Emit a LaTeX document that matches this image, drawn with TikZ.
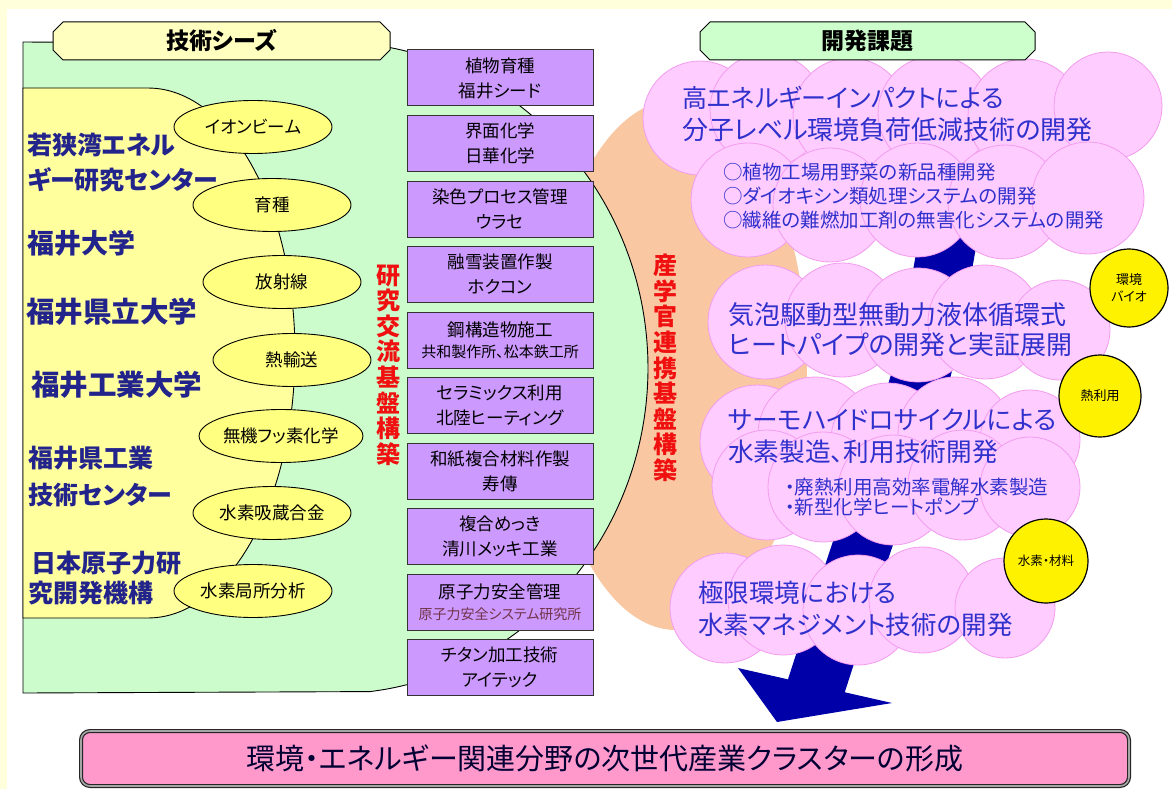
\documentclass[tikz,border=0pt]{standalone}
\usepackage{fontspec}
\newfontfamily\jp{Noto Sans CJK JP}[RawFeature=+palt]
\usetikzlibrary{shapes.geometric,shapes.misc}
\definecolor{bgy}{HTML}{FFFFDC}
\definecolor{pgreen}{HTML}{CCFCCC}
\definecolor{pyel}{HTML}{FFFF9E}
\definecolor{eyel}{HTML}{FFFF80}
\definecolor{purp}{HTML}{CC99FF}
\definecolor{pinkc}{HTML}{FFCCFF}
\definecolor{pinkb}{HTML}{F29CEE}
\definecolor{peach}{HTML}{F9C8A2}
\definecolor{navy}{HTML}{23238C}
\definecolor{tblue}{HTML}{3030CC}
\definecolor{arrblue}{HTML}{0000A8}
\definecolor{banpink}{HTML}{FF99CC}
\definecolor{hdry}{HTML}{FFFFC0}
\definecolor{hdrg}{HTML}{CCFFCC}
\definecolor{redt}{HTML}{F01010}
\begin{document}
\begin{tikzpicture}[x=1pt,y=-1pt,
  seedell/.style={ellipse, draw=black, fill=eyel, line width=0.9pt, minimum width=158pt, minimum height=53pt, inner sep=0pt, font=\jp\fontsize{17.5}{17.5}\selectfont},
  inst/.style={anchor=west, inner sep=0pt, text=navy, font=\jp\bfseries\fontsize{25}{25}\selectfont},
  instb/.style={inst, font=\jp\bfseries\fontsize{28.5}{28.5}\selectfont},
  cobox/.style={rectangle, draw=black!80, fill=purp, line width=1pt, minimum width=186pt, minimum height=56pt, inner sep=0pt, align=center, font=\jp\fontsize{17.5}{25}\selectfont},
  vred/.style={align=center, inner sep=0pt, text=redt, font=\jp\bfseries\fontsize{24}{25.6}\selectfont},
  pinkcirc/.style={fill=pinkc, draw=pinkb, line width=0.8pt},
  ttl/.style={anchor=west, align=left, inner sep=0pt, text=tblue, font=\jp\fontsize{26}{32}\selectfont},
  lst/.style={anchor=west, align=left, inner sep=0pt, text=tblue, font=\jp\fontsize{19.5}{24}\selectfont},
  ycirc/.style={circle, draw=black, fill=yellow, line width=1.2pt, inner sep=0pt, align=center, font=\jp\fontsize{13}{17}\selectfont},
  hdr/.style={chamfered rectangle, chamfered rectangle xsep=5pt, chamfered rectangle ysep=5pt, draw=black, line width=1pt, minimum width=335pt, minimum height=38pt, inner sep=0pt, font=\jp\bfseries\fontsize{23}{23}\selectfont},
  banner/.style={rectangle, rounded corners=9pt, draw=black!85, double=black!35, double distance=1.6pt, line width=1.2pt, fill=banpink, minimum width=1048pt, minimum height=55pt, inner sep=0pt, text=black!80!blue, font=\jp\fontsize{29}{29}\selectfont}
]
\useasboundingbox (0,0) rectangle (1172,789);
% background
\fill[bgy] (0,0) rectangle (1172,789);
\fill[white] (7,9) rectangle (1172,789);
% peach region
\fill[peach] (676,365) ellipse [x radius=131, y radius=265];
% green panel
\filldraw[fill=pgreen, draw=black, line width=0.9pt] (23,693) -- (23,42) -- (365,44)
  -- plot[smooth, samples=60, domain=-84:83] ({332+316*cos(\x)},{368+326*sin(\x)}) -- cycle;
% yellow region
\filldraw[fill=pyel, draw=black, line width=0.9pt] (23,618) -- (23,88)
  -- plot[smooth, samples=60, domain=-90:90] ({148+147*cos(\x)},{353+265*sin(\x)}) -- cycle;
% seed ellipses
\node[seedell] (e1) at (253,127) {イオンビーム};
\node[seedell] (e2) at (272,205) {育種};
\node[seedell] (e3) at (282,282) {放射線};
\node[seedell] (e4) at (292,360) {熱輸送};
\node[seedell] (e5) at (281,436) {無機フッ素化学};
\node[seedell] (e6) at (272,513) {水素吸蔵合金};
\node[seedell] (e7) at (253,591) {水素局所分析};
% institutions
\node[inst] (i1) at (27,145) {若狭湾エネル};
\node[inst] (i2) at (27,180) {ギー研究センター};
\node[inst, font=\jp\bfseries\fontsize{27}{27}\selectfont] (i3) at (27,243) {福井大学};
\node[instb] (i4) at (26,312) {福井県立大学};
\node[instb] (i5) at (31,385) {福井工業大学};
\node[inst] (i6) at (28,458) {福井県工業};
\node[inst] (i7) at (28,495) {技術センター};
\node[inst] (i8) at (31,563) {日本原子力研};
\node[inst] (i9) at (28,593) {究開発機構};
% company boxes
\node[cobox] (b1) at (500,78) {植物育種\\福井シード};
\node[cobox] (b2) at (500,143.5) {界面化学\\日華化学};
\node[cobox] (b3) at (500,209) {染色プロセス管理\\ウラセ};
\node[cobox] (b4) at (500,274.5) {融雪装置作製\\ホクコン};
\node[cobox] (b5) at (500,340) {鋼構造物施工\\[-4pt]{\fontsize{15}{15}\selectfont 共和製作所、松本鉄工所}};
\node[cobox] (b6) at (500,405.5) {セラミックス利用\\北陸ヒーティング};
\node[cobox] (b7) at (500,471) {和紙複合材料作製\\寿傳};
\node[cobox] (b8) at (500,536.5) {複合めっき\\清川メッキ工業};
\node[cobox] (b9) at (500,602) {原子力安全管理\\[-4pt]{\fontsize{14}{14}\selectfont\color{black!45!purple!60!gray}原子力安全システム研究所}};
\node[cobox] (b10) at (500,667.5) {チタン加工技術\\アイテック};
% vertical red texts
\node[vred] (v1) at (388,365) {研\\究\\交\\流\\基\\盤\\構\\築};
\node[vred] (v2) at (665,368) {産\\学\\官\\連\\携\\基\\盤\\構\\築};
% blue arrow
\draw[arrblue, line width=58pt] plot[smooth] coordinates {(952,215) (921,375) (864,540) (815,690)};
\fill[arrblue] (738,668) -- (777,722) -- (892,703) -- cycle;
% pink clouds
\foreach \cx/\cy/\r in {700/118/57, 767/110/57, 850/115/57, 935/113/57, 1025/116/57, 1108/106/54,
  748/200/57, 830/205/57, 917/200/57, 1005/202/57, 1088/198/56,
  765/322/57, 842/320/57, 918/325/57, 985/322/57, 1060/330/50,
  757/442/57, 815/434/57, 888/440/57, 955/434/57, 1030/440/50,
  767/485/55, 823/487/55, 893/490/55, 963/485/55, 1030/487/50,
  725/608/55, 783/600/55, 858/610/55, 922/600/53, 1005/608/50}
  \filldraw[pinkcirc] (\cx,\cy) circle[radius=\r];
% cloud texts
\node[ttl] (t1) at (682,114) {{\fontsize{25}{32}\selectfont 高エネルギーインパクトによる}\\分子レベル環境負荷低減技術の開発};
\node[lst] (l1) at (723,196) {○植物工場用野菜の新品種開発\\○ダイオキシン類処理システムの開発\\○繊維の難燃加工剤の無害化システムの開発};
\node[ttl, font=\jp\fontsize{26}{30}\selectfont] (t2) at (728,330) {気泡駆動型無動力液体循環式\\ヒートパイプの開発と実証展開};
\node[ttl, font=\jp\fontsize{25.7}{32}\selectfont] (t3) at (728,436) {サーモハイドロサイクルによる\\水素製造、利用技術開発};
\node[lst, font=\jp\fontsize{19.5}{20.5}\selectfont] (l3) at (785,497) {・廃熱利用高効率電解水素製造\\・新型化学ヒートポンプ};
\node[ttl, font=\jp\fontsize{25.5}{32}\selectfont] (t4) at (698,609) {極限環境における\\水素マネジメント技術の開発};
% yellow category circles
\node[ycirc, minimum size=78pt] (y1) at (1129,288) {環境\\バイオ};
\node[ycirc, minimum size=82pt] (y2) at (1100,396) {熱利用};
\node[ycirc, minimum size=84pt, font=\jp\fontsize{12.5}{14}\selectfont] (y3) at (1046,561) {水素・材料};
% headers
\node[hdr, fill=hdry, minimum width=337pt] (h1) at (221.5,41) {技術シーズ};
\node[hdr, fill=hdrg] (h2) at (867.5,41) {開発課題};
% banner
\node[banner] (ban) at (605,758.5) {環境・エネルギー関連分野の次世代産業クラスターの形成};
\end{tikzpicture}
\end{document}
